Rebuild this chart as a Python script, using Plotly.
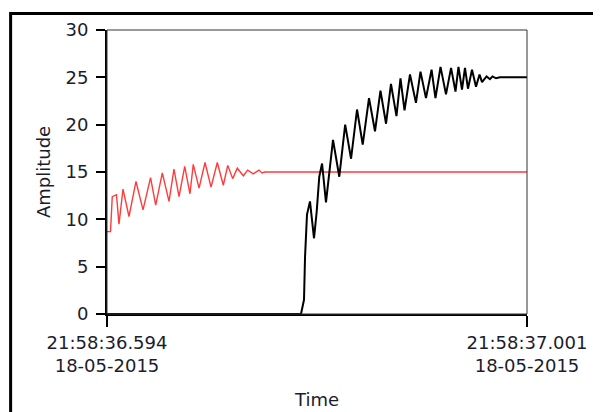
import pandas as pd
import plotly.graph_objects as go

# ---- data (time offsets in ms from the first sample) ----
start_time = "2015-05-18 21:58:36.594"
end_offset_ms = 407.0

red_t_ms = [0, 3.4, 5.1, 9.2, 11.6, 15.5, 21.3, 28.1, 34.9, 42.2, 47.2, 53.6, 60.1,
            64.9, 69.8, 75.3, 80.4, 83.6, 89.2, 95.0, 100.8, 106.9, 112.7, 117.0,
            121.8, 126.3, 132.1, 136.3, 141.8, 147.3, 150.2, 153.1, 407.0]
red_amp = [8.7, 8.7, 12.4, 12.6, 9.5, 13.2, 10.3, 14.0, 11.0, 14.4, 11.5, 14.9, 11.9,
           15.3, 12.4, 15.6, 12.7, 15.8, 13.3, 16.0, 13.4, 16.0, 13.6, 15.7,
           14.3, 15.4, 14.6, 15.2, 14.8, 15.2, 14.9, 15.0, 15.0]

black_t_ms = [0, 188.0, 190.9, 191.9, 193.8, 196.7, 200.6, 203.2, 205.7, 208.4, 212.2,
              219.0, 225.1, 230.8, 236.5, 242.3, 247.8, 253.9, 259.7, 265.0, 270.4,
              275.2, 280.5, 284.4, 288.3, 293.6, 299.4, 303.8, 309.1, 314.5, 318.3,
              323.2, 328.5, 333.4, 337.7, 340.6, 344.0, 346.9, 349.8, 353.7, 357.6,
              361.0, 363.4, 367.8, 371.1, 373.6, 377.0, 380.8, 407.0]
black_amp = [0, 0, 1.5, 6.0, 10.5, 11.9, 8.0, 10.8, 14.5, 15.9, 11.8,
             18.4, 14.5, 20.0, 16.4, 21.6, 17.9, 22.8, 19.3, 23.6, 20.1,
             24.3, 20.9, 24.9, 21.5, 25.3, 22.3, 25.6, 22.8, 25.8, 22.8,
             26.1, 23.2, 26.0, 23.5, 26.1, 23.7, 26.0, 23.8, 25.8, 24.0,
             25.3, 24.5, 25.1, 24.8, 25.1, 24.9, 25.0, 25.0]

y_ticks = [0, 5, 10, 15, 20, 25, 30]
x_tick_labels = ["21:58:36.594<br>18-05-2015", "21:58:37.001<br>18-05-2015"]


def to_time(offsets):
    base = pd.Timestamp(start_time)
    return [(base + pd.to_timedelta(v, unit="ms")).strftime("%Y-%m-%d %H:%M:%S.%f")
            for v in offsets]


x_start, x_end = to_time([0, end_offset_ms])

FONT = "DejaVu Sans"
TXT = "#1c1c2c"

fig = go.Figure()
fig.add_trace(go.Scatter(x=to_time(red_t_ms), y=red_amp, mode="lines",
                         line=dict(color="#ff3b3b", width=1.4),
                         showlegend=False))
fig.add_trace(go.Scatter(x=to_time(black_t_ms), y=black_amp, mode="lines",
                         line=dict(color="#000000", width=2),
                         showlegend=False))

# page has an 8px body margin, so the figure is drawn at (8, 8)
OFF = 8
L, R, T, B = 107 - OFF, 527.5 - OFF, 30 - OFF, 314 - OFF
W, H = 601, 412
pw, ph = R - L, B - T


def px(xp):
    return (xp - L) / pw


def py(yp):
    return (B - yp) / ph


fig.update_layout(
    width=W, height=H,
    margin=dict(l=L, r=W - R, t=T, b=H - B),
    paper_bgcolor="white", plot_bgcolor="white",
    font=dict(family=FONT, size=18, color=TXT),
    xaxis=dict(type="date", range=[x_start, x_end], tickvals=[x_start, x_end],
               ticktext=x_tick_labels, ticks="outside", ticklen=11, tickwidth=1.5,
               tickcolor="#000", showgrid=False, zeroline=False,
               showline=True, linecolor="#000", linewidth=2,
               tickfont=dict(family=FONT, size=18, color=TXT),
               title=dict(text="Time", standoff=18,
                          font=dict(family=FONT, size=18, color=TXT))),
    yaxis=dict(range=[0, 30], tickvals=y_ticks, ticks="outside", ticklen=9,
               tickwidth=1.5, tickcolor="#000", showgrid=False, zeroline=False,
               showline=True, linecolor="#000", linewidth=2, ticklabelstandoff=4,
               tickfont=dict(family=FONT, size=18, color=TXT),
               title=dict(text="Amplitude", standoff=10,
                          font=dict(family=FONT, size=18, color=TXT))),
    shapes=[
        dict(type="rect", xref="paper", yref="paper", x0=0, y0=0, x1=1, y1=1,
             line=dict(color="#333", width=1), layer="above"),
        dict(type="rect", xref="paper", yref="paper", x0=px(10.5 - OFF),
             y0=py(13.5 - OFF), x1=px(W + 20), y1=py(H + 20),
             line=dict(color="#000", width=3), layer="below"),
    ],
)

fig.write_html("out.html")
